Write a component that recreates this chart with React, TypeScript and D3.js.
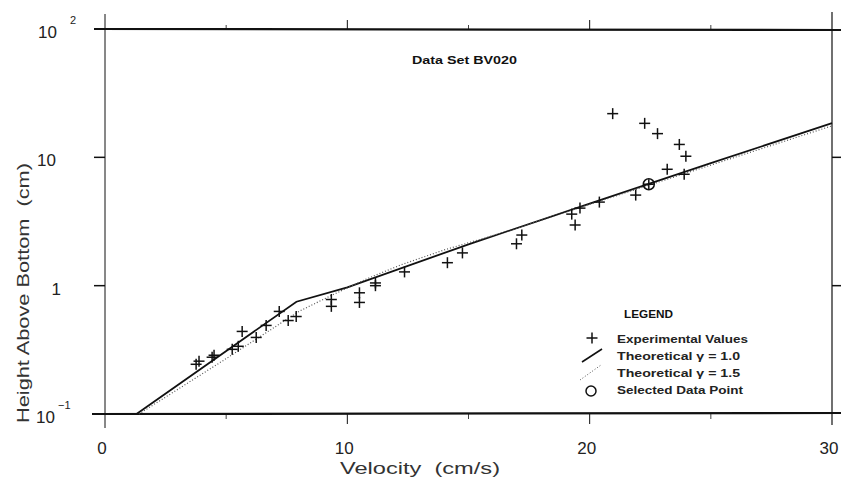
import React from 'react';
import * as d3 from 'd3';

// experimental values (velocity cm/s, height cm)
const expVelocity = [
  3.76, 3.88, 4.42, 4.5, 5.25, 5.5, 5.66, 6.24, 6.65, 7.19, 7.56, 7.89, 9.34, 9.34, 10.5, 10.5,
  11.16, 11.16, 12.36, 14.13, 14.75, 16.98, 17.2, 19.26, 19.4, 19.6, 20.4, 20.95, 21.9, 22.27,
  22.8, 23.2, 23.7, 23.9, 23.97,
];
const expHeight = [
  0.244, 0.258, 0.277, 0.287, 0.319, 0.337, 0.44, 0.395, 0.49, 0.63, 0.535, 0.575, 0.78, 0.69, 0.88,
  0.74, 1.05, 1.0, 1.28, 1.51, 1.8, 2.12, 2.48, 3.61, 2.97, 4.02, 4.48, 21.9, 5.08, 18.4, 15.3, 8.07,
  12.6, 7.38, 10.2,
];

const selected = { v: 22.44, h: 6.17 };

// theoretical profile, gamma = 1.0
const theory1V = [1.3, 7.9, 10, 15, 20, 25, 30];
const theory1H = [0.1, 0.75, 0.97, 2.1, 4.35, 9.0, 18.5];

// theoretical profile, gamma = 1.5
const theory15V = [1.4, 5, 8, 9.4, 10.8, 12.2, 14, 16.3, 20, 25, 30];
const theory15H = [0.1, 0.27, 0.63, 0.85, 1.13, 1.45, 1.9, 2.55, 4.3, 8.7, 17.6];

const xLabelTicks = [0, 10, 20, 30];
const xMinorTicks = [5, 15, 25];
const yTicks = [0.1, 1, 10, 100];

const legendItems = [
  'Experimental Values',
  'Theoretical \u03b3 = 1.0',
  'Theoretical \u03b3 = 1.5',
  'Selected Data Point',
];
const legendWidths = [131, 123, 123, 126];

const W = 841;
const H = 484;
const ink = '#111';
const font = '"Liberation Sans", Arial, sans-serif';

export default function App() {
  const x = d3.scaleLinear().domain([0, 30]).range([105, 832]);
  const y = d3.scaleLog().domain([0.1, 100]).range([414, 29]);

  const line = d3
    .line<[number, number]>()
    .x((d) => x(d[0]))
    .y((d) => y(d[1]));

  const t1 = theory1V.map((v, i) => [v, theory1H[i]] as [number, number]);
  const t15 = theory15V.map((v, i) => [v, theory15H[i]] as [number, number]);

  const plus = (cx: number, cy: number, s = 5.5, key?: any) => (
    <g key={key} stroke={ink} strokeWidth={1.5}>
      <line x1={cx - s} x2={cx + s} y1={cy} y2={cy} />
      <line x1={cx} x2={cx} y1={cy - s} y2={cy + s} />
    </g>
  );

  const yLabel = (t: number) => {
    if (t === 100) return { base: '10', sup: '2', bx: 57, sx: 70 };
    if (t === 10) return { base: '10', sup: '', bx: 56, sx: 0 };
    if (t === 1) return { base: '1', sup: '', bx: 61, sx: 0 };
    return { base: '10', sup: '\u22121', bx: 55, sx: 58 };
  };

  return (
    <svg
      width={W}
      height={H}
      style={{ position: 'absolute', left: 0, top: 0, background: '#fff' }}
      fontFamily={font}
    >
      <rect width={W} height={H} fill="#fff" />

      {/* frame */}
      <line x1={94} x2={841} y1={y(100)} y2={y(100) + 1} stroke={ink} strokeWidth={2.2} />
      <line x1={92} x2={841} y1={y(0.1)} y2={y(0.1) - 1} stroke={ink} strokeWidth={2.2} />
      <line x1={x(0)} x2={x(0)} y1={14} y2={428} stroke={ink} strokeWidth={1} />
      <line x1={x(30)} x2={x(30)} y1={12} y2={425} stroke={ink} strokeWidth={1.2} />

      {/* y ticks */}
      {[1, 10].map((t) => (
        <g key={t}>
          <line x1={94} x2={x(0)} y1={y(t)} y2={y(t)} stroke={ink} strokeWidth={1.5} />
          <line x1={x(30)} x2={841} y1={y(t)} y2={y(t)} stroke={ink} strokeWidth={1.5} />
        </g>
      ))}

      {/* x ticks */}
      {[10, 20].map((t) => (
        <g key={t} stroke={ink} strokeWidth={1}>
          <line x1={x(t)} x2={x(t)} y1={y(100)} y2={y(100) - 9} />
          <line x1={x(t)} x2={x(t)} y1={y(0.1)} y2={y(0.1) + 10} />
        </g>
      ))}
      {xMinorTicks.map((t) => (
        <g key={t} stroke={ink} strokeWidth={0.8}>
          <line x1={x(t)} x2={x(t)} y1={y(100)} y2={y(100) - 4} />
          <line x1={x(t)} x2={x(t)} y1={y(0.1)} y2={y(0.1) + 5} />
        </g>
      ))}

      {/* tick labels */}
      {xLabelTicks.map((t) => (
        <text key={t} x={x(t) - 3} y={454} textAnchor="middle" fontSize={17} fill="#222">
          {t}
        </text>
      ))}
      {yTicks.map((t) => {
        const l = yLabel(t);
        return (
          <g key={t} fill="#222">
            <text x={l.bx} y={y(t) + 9} textAnchor="end" fontSize={17}>
              {l.base}
            </text>
            {l.sup && (
              <text x={l.sx} y={y(t) - 5} fontSize={11}>
                {l.sup}
              </text>
            )}
          </g>
        );
      })}

      {/* axis titles */}
      <text
        x={340}
        y={474}
        fontSize={17}
        fill="#333"
        textLength={160}
        lengthAdjust="spacingAndGlyphs"
      >
        {'Velocity\u00a0\u00a0(cm/s)'}
      </text>
      <text
        transform="translate(29,423) rotate(-90)"
        fontSize={17}
        fill="#333"
        textLength={260}
        lengthAdjust="spacingAndGlyphs"
      >
        {'Height Above Bottom\u00a0\u00a0(cm)'}
      </text>

      <text
        x={412}
        y={64}
        fontSize={11}
        fontWeight="bold"
        fill={ink}
        textLength={105}
        lengthAdjust="spacingAndGlyphs"
      >
        Data Set BV020
      </text>

      {/* theory curves */}
      <path d={line(t1) || ''} fill="none" stroke={ink} strokeWidth={1.8} />
      <path d={line(t15) || ''} fill="none" stroke="#555" strokeWidth={1.2} strokeDasharray="1 2" />

      {/* experimental values */}
      {expVelocity.map((v, i) => plus(x(v), y(expHeight[i]), 5.5, i))}

      {/* selected point */}
      <circle cx={x(selected.v)} cy={y(selected.h)} r={5.5} fill="none" stroke={ink} strokeWidth={1.5} />
      {plus(x(selected.v), y(selected.h), 5, 'sel')}

      {/* legend */}
      <g fill={ink}>
        <text
          x={624}
          y={318}
          fontSize={11}
          fontWeight="bold"
          textLength={49}
          lengthAdjust="spacingAndGlyphs"
        >
          LEGEND
        </text>
        {plus(592, 338, 5.5, 'lp')}
        <line x1={582} y1={362} x2={602} y2={349} stroke={ink} strokeWidth={1.6} />
        <line x1={580} y1={380} x2={601} y2={365} stroke="#555" strokeWidth={1} strokeDasharray="1 2" />
        <circle cx={591} cy={391} r={5} fill="none" stroke={ink} strokeWidth={1.5} />
        {legendItems.map((s, i) => (
          <text
            key={s}
            x={617}
            y={343 + i * 17}
            fontSize={11}
            fontWeight="bold"
            fill="#222"
            textLength={legendWidths[i]}
            lengthAdjust="spacingAndGlyphs"
          >
            {s}
          </text>
        ))}
      </g>
    </svg>
  );
}
